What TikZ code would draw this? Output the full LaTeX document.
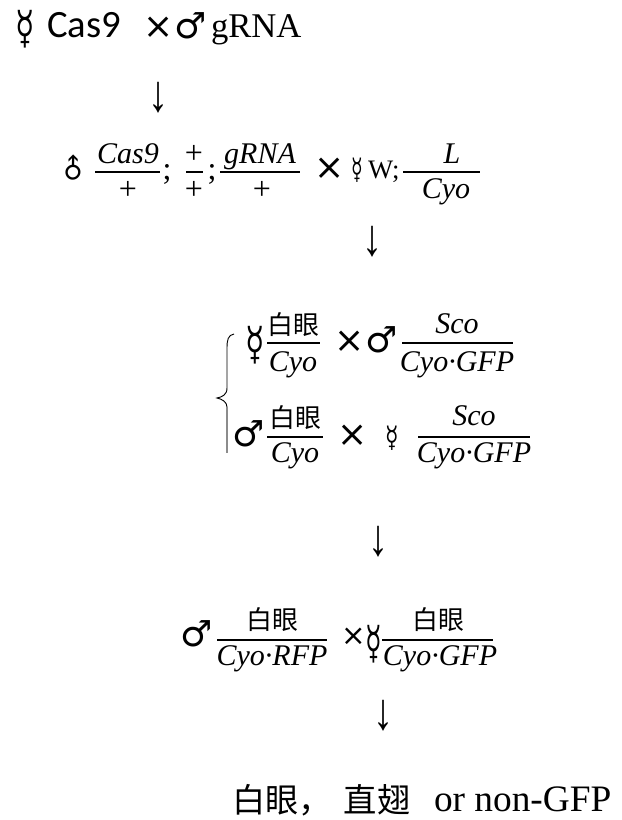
\documentclass[tikz,border=0pt]{standalone}
\usepackage{fontspec}
\setmainfont{Liberation Serif}
\newfontfamily\carlfont{Carlito}
\newfontfamily\symfont{DejaVu Sans}
\newfontfamily\arrowfont{Liberation Sans}
\newfontfamily\cjkfont{Noto Sans CJK SC}
\newfontfamily\mathitfont{Liberation Serif Italic}

% narrow, tall planet symbols
\newcommand\mercsym[1]{\scalebox{#1}[1]{☿}}

\tikzset{
  txt/.style={inner sep=0pt, outer sep=0pt},
  head/.style={txt, font=\fontsize{26}{30}\selectfont},
  headsans/.style={txt, font=\carlfont\fontsize{29}{32}\selectfont},
  sexlarge/.style={txt, font=\symfont\fontsize{34}{38}\selectfont},
  sexmale/.style={txt, font=\symfont\fontsize{27}{30}\selectfont},
  sexsmall/.style={txt, font=\symfont\fontsize{22}{26}\selectfont},
  crosssym/.style={txt, font=\symfont\fontsize{27}{30}\selectfont},
  geno/.style={txt, anchor=base, font=\mathitfont\fontsize{22.5}{26}\selectfont},
  genoplain/.style={txt, anchor=base, font=\fontsize{24}{28}\selectfont},
  cjk/.style={txt, font=\cjkfont\fontsize{19.5}{22}\selectfont},
  cjkbig/.style={txt, font=\cjkfont\fontsize{25}{28}\selectfont},
  fracbar/.style={line width=1.5pt, black},
  downarrow/.style={txt, font=\arrowfont\fontsize{30}{32}\selectfont},
}

\begin{document}
\begin{tikzpicture}[x=0.75pt,y=-0.75pt]
\fill[white] (0,0) rectangle (621,820);
\useasboundingbox (0,0) rectangle (621,820);

% ---- parental cross ----
\node[sexlarge] (p1f) at (25,29) {\mercsym{0.7}};
\node[headsans, anchor=base west] (p1cas) at (47,38) {Cas9};
\node[crosssym] (p1x) at (159,28) {×};
\node[sexmale] (p1m) at (191,26) {♂};
\node[head, anchor=base west] (p1g) at (211,38) {gRNA};

\node[downarrow] (a1) at (158,98) {\scalebox{1}[1.3]{↓}};

% ---- F1 cross ----
\node[sexsmall, font=\symfont\fontsize{27}{30}\selectfont, rotate=45] (f1m) at (73,169) {\scalebox{0.75}{♂}};
\draw[fracbar] (95,172) -- (160,172);
\node[geno] (f1an) at (128,163) {Cas9};
\node[genoplain] (f1ad) at (128,199) {+};
\node[genoplain, anchor=base] (f1s1) at (167,180) {;};
\draw[fracbar] (186,172) -- (203,172);
\node[genoplain] (f1bn) at (194,163) {+};
\node[genoplain] (f1bd) at (194,199) {+};
\node[genoplain, anchor=base] (f1s2) at (212,180) {;};
\draw[fracbar] (220,172) -- (300,172);
\node[geno] (f1cn) at (260,163) {gRNA};
\node[genoplain] (f1cd) at (262,199) {+};
\node[crosssym] (f1x) at (330,169) {×};
\node[sexsmall] (f1f) at (357,170) {\mercsym{0.65}};
\node[genoplain, font=\fontsize{20}{24}\selectfont, anchor=base west] (f1w) at (368,178) {W;};
\draw[fracbar] (403,172) -- (480,172);
\node[geno] (f1ln) at (452,163) {L};
\node[geno] (f1ld) at (446,198) {Cyo};

\node[downarrow] (a2) at (372,242) {\scalebox{1}[1.3]{↓}};

% ---- balancer crosses ----
\draw[line width=0.7pt] (234,334) .. controls (228,335) and (227,340) .. (227,348)
  -- (227,388) .. controls (227,395) and (222,397) .. (217,398)
  .. controls (222,399) and (227,402) .. (227,407);
\draw[line width=0.9pt, black!45] (227,407) -- (227,453);

% row A
\node[sexlarge] (ra-f) at (255,345) {\mercsym{0.7}};
\draw[fracbar] (267,343) -- (320,343);
\node[cjk] (ra-wn) at (293,325) {白眼};
\node[geno] (ra-wd) at (293,371) {Cyo};
\node[crosssym] (ra-x) at (350,342) {×};
\node[sexmale] (ra-m) at (382,340) {♂};
\draw[fracbar] (402,343) -- (513,343);
\node[geno] (ra-sn) at (457,333) {Sco};
\node[geno] (ra-sd) at (457,371) {Cyo·GFP};

% row B
\node[sexmale] (rb-m) at (249,434) {♂};
\draw[fracbar] (267,437) -- (323,437);
\node[cjk] (rb-wn) at (295,418) {白眼};
\node[geno] (rb-wd) at (295,462) {Cyo};
\node[crosssym] (rb-x) at (353,436) {×};
\node[sexsmall] (rb-f) at (392,438) {\mercsym{0.75}};
\draw[fracbar] (418,437) -- (530,437);
\node[geno] (rb-sn) at (474,425) {Sco};
\node[geno] (rb-sd) at (474,462) {Cyo·GFP};

\node[downarrow] (a3) at (378,542) {\scalebox{1}[1.3]{↓}};

% row C
\node[sexmale] (rc-m) at (197,634) {♂};
\draw[fracbar] (217,640) -- (327,640);
\node[cjk] (rc-wn) at (272,620) {白眼};
\node[geno] (rc-wd) at (272,665) {Cyo·RFP};
\node[crosssym, font=\symfont\fontsize{22}{26}\selectfont] (rc-x) at (354,637) {×};
\node[sexlarge] (rc-f) at (374,644) {\mercsym{0.6}};
\draw[fracbar] (382,640) -- (493,640);
\node[cjk] (rc-gn) at (438,620) {白眼};
\node[geno] (rc-gd) at (440,665) {Cyo·GFP};

\node[downarrow] (a4) at (383,716) {\scalebox{1}[1.3]{↓}};

% ---- screened phenotype ----
\node[cjkbig] (res1) at (282,800) {白眼，};
\node[cjkbig] (res2) at (377,800) {直翅};
\node[head, font=\fontsize{28}{32}\selectfont, anchor=base west] (res3) at (434,811) {or non-GFP};
\end{tikzpicture}
\end{document}
